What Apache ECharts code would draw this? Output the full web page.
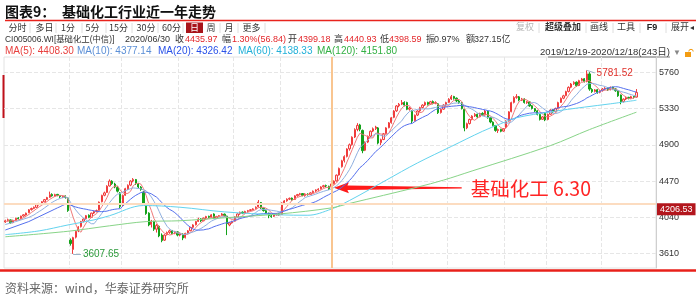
<!DOCTYPE html>
<html><head><meta charset="utf-8">
<script src="https://cdn.jsdelivr.net/npm/echarts@6/dist/echarts.min.js"></script>
<style>html,body{margin:0;padding:0;background:#fff}#c{width:700px;height:297px}</style>
</head><body><div id="c"></div><script>
// ---------- trading calendar (categories) ----------
const monthDays = [
 ['2019/12',[19,20,23,24,25,26,27,30,31]],
 ['2020/01',[2,3,6,7,8,9,10,13,14,15,16,17,20,21,22,23]],
 ['2020/02',[3,4,5,6,7,10,11,12,13,14,17,18,19,20,21,24,25,26,27,28]],
 ['2020/03',[2,3,4,5,6,9,10,11,12,13,16,17,18,19,20,23,24,25,26,27,30,31]],
 ['2020/04',[1,2,3,7,8,9,10,13,14,15,16,17,20,21,22,23,24,27,28,29,30]],
 ['2020/05',[6,7,8,11,12,13,14,15,18,19,20,21,22,25,26,27,28,29]],
 ['2020/06',[1,2,3,4,5,8,9,10,11,12,15,16,17,18,19,22,23,24,29,30]],
 ['2020/07',[1,2,3,6,7,8,9,10,13,14,15,16,17,20,21,22,23,24,27,28,29,30,31]],
 ['2020/08',[3,4,5,6,7,10,11,12,13,14,17,18,19,20,21,24,25,26,27,28,31]],
 ['2020/09',[1,2,3,4,7,8,9,10,11,14,15,16,17,18,21,22,23,24,25,28,29,30]],
 ['2020/10',[9,12,13,14,15,16,19,20,21,22,23,26,27,28,29,30]],
 ['2020/11',[2,3,4,5,6,9,10,11,12,13,16,17,18,19,20,23,24,25,26,27,30]],
 ['2020/12',[1,2,3,4,7,8,9,10,11,14,15,16,17,18]]
];
const gridMonths = ['2020/02','2020/03','2020/04','2020/05','2020/06','2020/07','2020/08','2020/09','2020/10','2020/11','2020/12'];
const padCategories = ['+1','+2','+3','+4','+5','+6','+7'];

// ---------- OHLC ----------
const opens = [
 3985,4002,4010,3978,4005,4032,4025,4056,4068,4095,4132,4146,4158,4192,4198,4224,4252,4278,4312,4293,4312,4298,4280,4292,4270,
 3770,3660,3805,3880,3930,3995,4025,4065,4040,4092,4112,4125,4225,4302,4335,4412,4468,4435,4395,4330,
 4180,4302,4378,4422,4472,4488,4435,4398,4340,4190,4090,3955,3990,3900,3935,3830,3770,3835,3862,3885,3852,3868,
 3830,3840,3800,3852,3882,3922,3952,3992,4022,4000,4032,4052,4042,4080,4032,4052,4062,4078,4055,3950,3975,
 3995,4045,4082,4102,4090,4110,4122,4130,4142,4165,4215,4148,4118,4090,4058,4052,4070,4082,
 4075,4212,4236,4256,4268,4252,4296,4312,4322,4298,4315,4312,4332,4352,4366,4378,4402,4416,4408,4399.18,
 4440,4472,4542,4640,4712,4762,4852,4902,4992,5082,5135,5070,4835,4932,5002,5062,5092,5100,4925,4962,5032,5102,5162,
 5225,5302,5362,5382,5402,5400,5322,5300,5185,5252,5302,5342,5372,5402,5382,5412,5392,5385,5282,5322,5372,
 5402,5442,5472,5452,5418,5398,5320,5100,5152,5202,5242,5262,5232,5272,5252,5298,5222,5168,5128,5068,5082,5062,
 5110,5182,5292,5402,5462,5468,5428,5442,5398,5408,5362,5328,5302,5258,5202,5270,
 5200,5262,5312,5292,5332,5402,5452,5482,5532,5582,5622,5642,5602,5662,5682,5650,5740,5555,5532,5552,5522,
 5542,5562,5572,5552,5582,5562,5542,5490,5412,5442,5462,5452,5472,5465
];
const closes = [
 4000,4012,3975,4005,4030,4025,4055,4070,4090,4130,4145,4160,4190,4200,4225,4250,4275,4310,4295,4310,4300,4285,4290,4275,4120,
 3730,3800,3875,3925,3990,4020,4060,4040,4090,4110,4120,4220,4300,4330,4410,4470,4440,4400,4350,4170,
 4300,4380,4420,4470,4490,4440,4400,4370,4200,4085,3950,3995,3900,3945,3820,3765,3830,3860,3880,3850,3870,3830,
 3845,3795,3850,3880,3920,3950,3990,4020,4000,4030,4050,4040,4070,4030,4050,4060,4080,4060,3965,3975,3990,
 4045,4080,4100,4090,4110,4120,4130,4140,4160,4220,4150,4120,4090,4060,4050,4070,4080,4070,
 4210,4235,4255,4265,4250,4295,4310,4320,4300,4317,4310,4330,4350,4365,4375,4400,4415,4411.4,4379.13,4435.97,
 4470,4540,4620,4710,4760,4850,4900,4990,5080,5130,5085,4830,4930,5000,5060,5090,5110,4920,4960,5030,5100,5160,5220,
 5300,5360,5380,5400,5370,5320,5335,5180,5250,5300,5340,5370,5400,5380,5410,5390,5400,5280,5320,5370,5400,
 5440,5470,5450,5420,5400,5330,5100,5150,5200,5240,5260,5230,5270,5250,5300,5220,5170,5130,5070,5080,5060,5090,
 5180,5290,5400,5460,5470,5430,5440,5400,5410,5360,5330,5300,5260,5200,5230,5195,
 5260,5310,5290,5330,5400,5450,5480,5530,5580,5620,5640,5600,5660,5680,5650,5740,5560,5530,5550,5520,5540,
 5560,5570,5550,5580,5560,5540,5480,5410,5440,5460,5450,5470,5460,5520
];
const lows = [
 3975,3992,3965,3970,3998,4015,4020,4048,4062,4090,4120,4138,4152,4180,4192,4218,4245,4270,4285,4285,4290,4270,4268,4262,4105,
 3705,3607.65,3790,3865,3920,3980,4015,4030,4035,4080,4098,4120,4218,4290,4330,4405,4425,4385,4335,4150,
 4170,4295,4365,4410,4455,4425,4385,4355,4190,4070,3935,3920,3880,3860,3805,3745,3760,3825,3845,3838,3840,3815,
 3815,3770,3790,3840,3875,3910,3945,3985,3985,3995,4020,4030,4035,4020,4025,4040,4055,4048,3830,3935,3965,
 3990,4038,4070,4078,4085,4100,4112,4122,4135,4158,4140,4108,4080,4030,4035,4045,4062,4060,
 4070,4205,4225,4245,4238,4248,4285,4300,4290,4285,4298,4305,4322,4342,4355,4370,4392,4398,4365,4398.59,
 4430,4465,4535,4630,4690,4750,4830,4890,4980,5060,5060,4800,4825,4920,4990,5050,5075,4905,4895,4955,5025,5095,5150,
 5215,5290,5345,5370,5355,5310,5305,5150,5175,5240,5290,5330,5360,5365,5372,5378,5380,5265,5270,5315,5360,
 5395,5430,5435,5405,5385,5318,5060,5085,5140,5190,5230,5215,5225,5240,5245,5210,5155,5118,5055,5040,5048,5055,
 5100,5175,5285,5390,5445,5415,5418,5388,5385,5350,5318,5288,5248,5188,5195,5180,
 5190,5255,5278,5285,5325,5395,5440,5475,5520,5570,5610,5588,5595,5650,5638,5640,5540,5515,5520,5505,5510,
 5530,5550,5538,5545,5548,5528,5468,5380,5400,5430,5438,5440,5448,5460
];
const highs = [
 4012,4025,4015,4012,4036,4042,4060,4078,4096,4138,4155,4168,4196,4212,4232,4258,4283,4345,4325,4320,4318,4305,4298,4300,4275,
 3790,3810,3885,3935,3998,4030,4068,4075,4095,4120,4132,4228,4308,4345,4420,4490,4480,4450,4410,4340,
 4310,4390,4430,4480,4505,4495,4448,4410,4350,4200,4100,4010,4000,3960,3945,3850,3840,3872,3895,3890,3880,3875,
 3860,3850,3858,3890,3928,3958,3998,4035,4030,4038,4058,4060,4078,4088,4058,4068,4090,4085,4060,3985,4000,
 4052,4088,4108,4110,4118,4128,4138,4148,4170,4245,4222,4155,4125,4095,4068,4078,4088,4090,
 4218,4245,4265,4275,4275,4302,4318,4330,4328,4325,4325,4338,4358,4372,4385,4408,4425,4428,4415,4440.93,
 4478,4548,4630,4722,4775,4858,4915,5000,5095,5156,5148,5080,4940,5010,5070,5105,5125,5110,4972,5040,5108,5170,5230,
 5310,5370,5395,5430,5415,5410,5348,5310,5258,5310,5350,5380,5412,5410,5420,5425,5415,5392,5330,5380,5410,
 5452,5490,5480,5460,5432,5405,5325,5162,5210,5250,5275,5270,5280,5285,5312,5305,5230,5178,5135,5092,5090,5098,
 5190,5298,5410,5475,5500,5478,5455,5450,5420,5415,5370,5335,5310,5265,5240,5285,
 5270,5320,5320,5340,5410,5460,5492,5540,5592,5632,5652,5650,5670,5692,5690,5781.52,5760,5570,5560,5560,5552,
 5572,5582,5580,5590,5588,5570,5548,5495,5450,5470,5468,5480,5478,5560
];

// MA readings before a full window exists, and the long MAs: [index, value]
const ma5Head = [[0,3992]];
const ma10Head = [[0,3955],[4,3990]];
const ma20Head = [[0,3890],[9,3990]];
const ma60Read = [[0,3835],[13,3880],[24,3950],[34,4010],[40,4060],[53,4180],[67,4160],[84,4105],[105,4070],[116,4065],[125,4138],[132,4240],[140,4376],[146,4480],[158,4684],[171,4880],[183,5060],[190,5150],[196,5220],[209,5290],[222,5346],[232,5385],[242,5428]];
const ma120Read = [[0,3810],[24,3875],[40,3940],[54,3990],[67,4000],[84,4035],[105,4080],[125,4152],[132,4205],[158,4398],[168,4481],[179,4590],[209,4890],[224,5080],[242,5286]];

const yTicks = [3610,4040,4470,4900,5330,5760];
const crossDate = '2020/06/30';
const crossValue = 4206.53;
const arrowText = '基础化工 6.30';
const arrowSpan = [126, 175, 4390];

const infoItems = [
 ['CI005006.WI[基础化工(中信)]',5,0,8.4],['2020/06/30',125,0,9],['收',175,0,9],['4435.97',185,1,9],['幅',222,0,9],['1.30%(56.84)',232,1,9],
 ['开',288,0,9],['4399.18',298,1,9],['高',334,0,9],['4440.93',344,1,9],['低',380,0,9],['4398.59',389,1,9],['振',426,0,9],['0.97%',434,0,9],['额',466,0,9],['327.15亿',474,0,9]
];
const maLegend = [['MA(5): 4408.30',5,'#e8413f'],['MA(10): 4377.14',77,'#5b8fd6'],['MA(20): 4326.42',158,'#2a52e8'],['MA(60): 4138.33',238,'#22b0d8'],['MA(120): 4151.80',317,'#33b044']];
const toolLeft = [['分时',17.5],['多日',44.5],['1分',68],['5分',92.5],['15分',118.5],['30分',146],['60分',171.5],['周',211],['月',229],['更多',251.5]];
const toolRight = [['复权',525,'#b5b5b5'],['超级叠加',563,'#333'],['画线',599,'#333'],['工具',626,'#333'],['F9',652,'#222'],['展开',680,'#333']];

// ---------- build ----------
const dates = monthDays.flatMap(([m, ds]) => ds.map(d => m + '/' + String(d).padStart(2,'0')));
const categories = dates.concat(padCategories);
const monthStart = new Set();
{ let k = 0; monthDays.forEach(([m, ds]) => { if (gridMonths.includes(m)) monthStart.add(k); k += ds.length; }); }
const kData = dates.map((d,i) => [opens[i], closes[i], lows[i], highs[i]]);
function movingAvg(n, head){
  const out = head.slice(); let s = 0;
  for (let i = 0; i < closes.length; i++){ s += closes[i]; if (i >= n) s -= closes[i-n]; if (i >= n-1) out.push([i, +(s/n).toFixed(2)]); }
  return out;
}
const hiIdx = highs.indexOf(Math.max(...highs));
const loIdx = lows.indexOf(Math.min(...lows));

const FONT = "'Liberation Sans','Noto Sans CJK SC',sans-serif";
const CJK = "'Noto Sans CJK SC',sans-serif";
function T(text, x, y, size, fill, extra){
  return {type:'text', silent:true, style:Object.assign({text, x, y, font: size + 'px ' + FONT, fill, verticalAlign:'middle', align:'left'}, extra||{})};
}
const RED = '#e3262a';
const graphics = [];
graphics.push(T('图表9：', 5, 12, 14, '#111', {font:'bold 14px ' + CJK}));
graphics.push(T('基础化工行业近一年走势', 62, 12, 14, '#111', {font:'bold 14px ' + CJK}));
graphics.push({type:'line', silent:true, shape:{x1:5,y1:20.5,x2:696,y2:20.5}, style:{stroke:'#e8231c', lineWidth:1.3}});
toolLeft.forEach(([t,x]) => graphics.push(T(t, x, 27.5, 9, '#333', {align:'center', font:'9px ' + CJK})));
graphics.push({type:'rect', silent:true, shape:{x:186,y:22.5,width:17,height:10.5}, style:{fill:'#a8141a'}});
graphics.push(T('日', 194.5, 27.8, 9, '#fff', {align:'center', font:'9px ' + CJK}));
[30,56,82,106,132,158,183,220,238,265,539,586,613,640,666].forEach(x => graphics.push({type:'line', silent:true, shape:{x1:x,y1:23,x2:x,y2:33}, style:{stroke:'#dedede', lineWidth:1}}));
toolRight.forEach(([t,x,c]) => graphics.push(T(t, x, 27.5, 9, c, {align:'center', font:(t==='F9'||t==='超级叠加'?'bold ':'') + '9px ' + FONT})));
graphics.push(T('◂', 692, 27.5, 8, '#333', {align:'center'}));
infoItems.forEach(([t,x,r,s]) => graphics.push(T(t, x, 39.5, s, r ? RED : '#333')));
maLegend.forEach(([t,x,c]) => graphics.push(T(t, x, 51, 10, c)));
graphics.push(T('2019/12/19-2020/12/18(243日)', 670, 52.5, 9.5, '#333', {align:'right'}));
graphics.push({type:'line', silent:true, shape:{x1:548,y1:57,x2:670,y2:57}, style:{stroke:'#555', lineWidth:0.8}});
graphics.push(T('▼', 677, 52.5, 8, '#888', {align:'center'}));
graphics.push({type:'rect', silent:true, shape:{x:685,y:52,width:6,height:5}, style:{fill:'#f39c12'}});
graphics.push({type:'arc', silent:true, shape:{cx:691,cy:51.5,r:2.2,startAngle:Math.PI,endAngle:2*Math.PI}, style:{stroke:'#f39c12', lineWidth:1, fill:'none'}});
graphics.push({type:'rect', silent:true, shape:{x:2.5,y:75,width:2,height:43}, style:{fill:'#c0101a'}});
graphics.push({type:'line', silent:true, shape:{x1:0,y1:270.5,x2:696,y2:270.5}, style:{stroke:'#e8201a', lineWidth:2.5}});
graphics.push(T('资料来源：wind，华泰证券研究所', 5, 288, 12, '#666', {font:'12px ' + CJK}));

const chart = echarts.init(document.getElementById('c'), null, {renderer:'canvas'});
chart.setOption({
  animation:false,
  backgroundColor:'#fff',
  grid:{left:4, right:44, top:57, bottom:29, show:true, borderColor:'#e2e2e2', borderWidth:1},
  xAxis:{type:'category', data:categories, boundaryGap:true,
    axisLine:{show:false}, axisTick:{show:false}, axisLabel:{show:false},
    splitLine:{show:true, interval:(idx) => monthStart.has(idx), lineStyle:{color:'#e6e6e6', type:'dashed'}}},
  yAxis:{type:'value', position:'right', min:3440, max:5940,
    axisLine:{show:true, lineStyle:{color:'#cfcfcf'}},
    axisTick:{show:false, customValues:yTicks},
    axisLabel:{customValues:yTicks, formatter:(v) => String(v), color:'#333', fontSize:9, margin:3, fontFamily:FONT},
    splitLine:{show:true, lineStyle:{color:'#e6e6e6', type:'dashed'}}},
  graphic:graphics,
  series:[
    {type:'candlestick', data:kData, barWidth:'68%', clip:false,
      itemStyle:{color:'#fde3e3', color0:'#13a21a', borderColor:'#f03c3c', borderColor0:'#13a21a', borderWidth:1},
      markLine:{symbol:'none', silent:true, animation:false,
        data:[
          {xAxis:crossDate, lineStyle:{color:'#f9c590', width:2, type:'solid'}, label:{show:false}},
          {yAxis:crossValue, lineStyle:{color:'#fcdcc0', width:2, type:'solid'},
            label:{show:true, position:'end', formatter:String(crossValue), backgroundColor:'#b3161d', color:'#fff', fontSize:9, fontFamily:FONT, padding:[2,3,1,3], distance:1, offset:[0,6]}},
          [{coord:[hiIdx, highs[hiIdx]], lineStyle:{color:'#9bb4c8', width:1, type:'solid'}, label:{show:true, position:'end', formatter:String(highs[hiIdx]), color:'#e0302a', fontSize:10, fontFamily:FONT, distance:2}},
           {coord:[hiIdx+3, highs[hiIdx]-30]}],
          [{coord:[loIdx, lows[loIdx]], lineStyle:{color:'#9bb4c8', width:1, type:'solid'}, label:{show:true, position:'end', formatter:String(lows[loIdx]), color:'#2b9a3a', fontSize:10, fontFamily:FONT, distance:2}},
           {coord:[loIdx+3, lows[loIdx]]}]
        ]}},
    {type:'line', data:movingAvg(5, ma5Head), symbol:'none', lineStyle:{color:'#f07a7a', width:1}},
    {type:'line', data:movingAvg(10, ma10Head), symbol:'none', lineStyle:{color:'#8fb0e0', width:1}},
    {type:'line', data:movingAvg(20, ma20Head), symbol:'none', lineStyle:{color:'#5570ee', width:1}},
    {type:'line', data:ma60Read, symbol:'none', smooth:0.35, lineStyle:{color:'#63d3ee', width:1}},
    {type:'line', data:ma120Read, symbol:'none', smooth:0.35, lineStyle:{color:'#88d488', width:1}},
    {type:'custom', data:[arrowSpan], silent:true, clip:false,
      renderItem:(params, api) => {
        const tip = api.coord([api.value(0), api.value(2)]);
        const tail = api.coord([api.value(1), api.value(2)]);
        const x = tip[0], y = tip[1], tx = tail[0];
        return {type:'group', children:[
          {type:'polygon', shape:{points:[[x,y],[x+15,y-5.5],[x+13.5,y-2.2],[tx,y-0.6],[tx,y+0.6],[x+13.5,y+2.2],[x+15,y+5.5]]}, style:{fill:'#ff1a1a'}},
          {type:'text', style:{text:arrowText, x:tx+9, y:y+1, verticalAlign:'middle', font:'19.5px ' + CJK, fill:'#ff2424'}}
        ]};
      }}
  ]
});
</script></body></html>
